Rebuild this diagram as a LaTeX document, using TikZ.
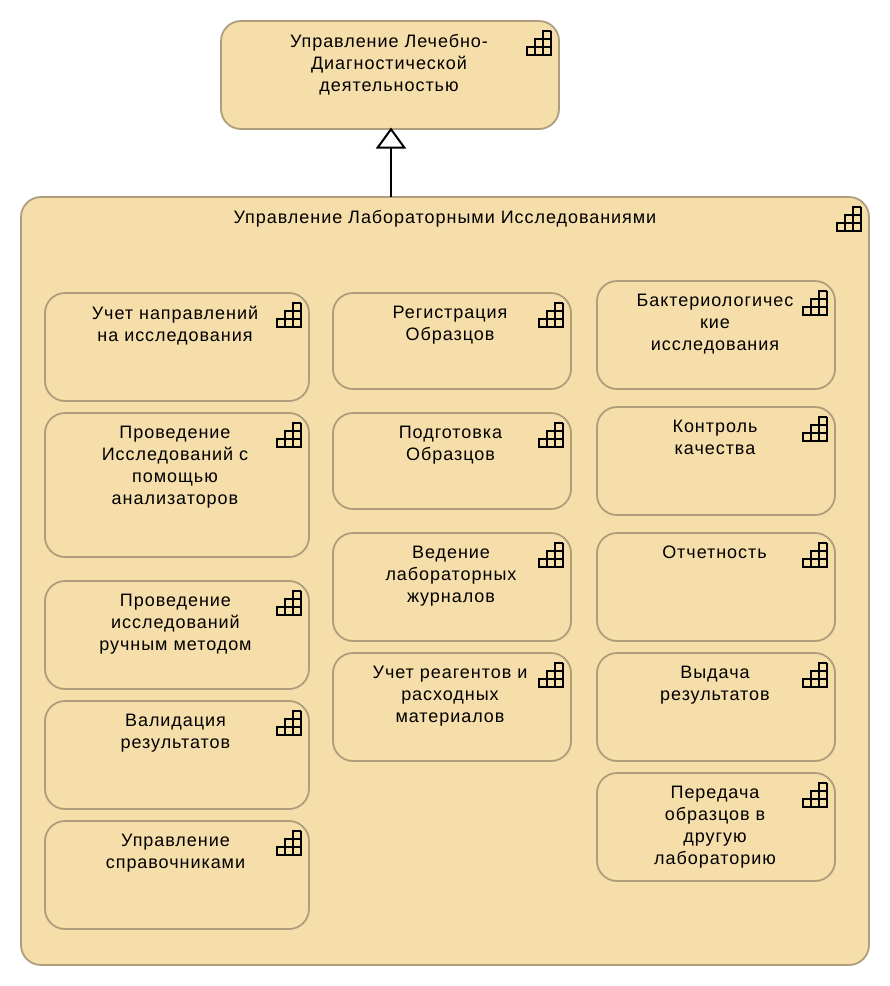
\documentclass[tikz,border=0pt]{standalone}
\usepackage{fontspec}
\setmainfont{Liberation Sans}[LetterSpace=5.3]
\usetikzlibrary{arrows.meta,calc}
\definecolor{boxfill}{HTML}{F5DEAA}
\definecolor{boxline}{HTML}{AF9E7C}
\tikzset{
  x=1pt,y=-1pt,
  cap box/.style={draw=boxline,fill=boxfill,line width=1.8pt,rounded corners=20pt,inner sep=0pt,outer sep=0pt},
  cap text/.style={anchor=base,align=center,inner sep=0pt,font=\fontsize{18}{22}\selectfont,text=black},
  stair/.style={draw=black,line width=2pt,line join=miter},
  spec/.style={-{Triangle[open,fill=white,length=21pt,width=30pt,line width=2pt]},draw=black,line width=2pt,shorten >=-1.5pt}
}
% #1 name, #2 x1, #3 y1, #4 x2, #5 y2, #6 text centre x, #7 text
\newcommand{\capbox}[7]{%
  \node[cap box,minimum width=#4-#2,minimum height=#5-#3] (#1) at ({(#2+#4)/2},{(#3+#5)/2}) {};
  \node[cap text,anchor=north] at (#6,#3+12.7) {#7};
  \begin{scope}[shift={(#4-8,#3+10)}]
    \draw[stair] (0,0) -- (-8,0) -- (-8,24) (0,0) -- (0,24) -- (-24,24) -- (-24,16) -- (0,16) (-16,24) -- (-16,8) -- (0,8);
  \end{scope}
}
\begin{document}
\begin{tikzpicture}
\useasboundingbox (0,0) rectangle (890,986);
\fill[white] (0,0) rectangle (890,986);
\capbox{top}{221}{21}{559}{129}{389}{Управление Лечебно-\\Диагностической\\деятельностью}
\capbox{main}{21}{197}{869}{965}{445}{Управление Лабораторными Исследованиями}
\draw[spec] (main.north -| 391,0) -- (top.south -| 391,0);
\capbox{a1}{45}{293}{309}{401}{175}{Учет направлений\\на исследования}
\capbox{a2}{45}{413}{309}{557}{175}{Проведение\\Исследований с\\помощью\\анализаторов}
\capbox{a3}{45}{581}{309}{689}{175.5}{Проведение\\исследований\\ручным методом}
\capbox{a4}{45}{701}{309}{809}{175.5}{Валидация\\результатов}
\capbox{a5}{45}{821}{309}{929}{175.5}{Управление\\справочниками}
\capbox{b1}{333}{293}{571}{389}{450}{Регистрация\\Образцов}
\capbox{b2}{333}{413}{571}{509}{450.5}{Подготовка\\Образцов}
\capbox{b3}{333}{533}{571}{641}{451}{Ведение\\лабораторных\\журналов}
\capbox{b4}{333}{653}{571}{761}{450}{Учет реагентов и\\расходных\\материалов}
\capbox{c1}{597}{281}{835}{389}{715}{Бактериологичес\\кие\\исследования}
\capbox{c2}{597}{407}{835}{515}{715}{Контроль\\качества}
\capbox{c3}{597}{533}{835}{641}{714.5}{Отчетность}
\capbox{c4}{597}{653}{835}{761}{715}{Выдача\\результатов}
\capbox{c5}{597}{773}{835}{881}{715}{Передача\\образцов в\\другую\\лабораторию}
\end{tikzpicture}
\end{document}
